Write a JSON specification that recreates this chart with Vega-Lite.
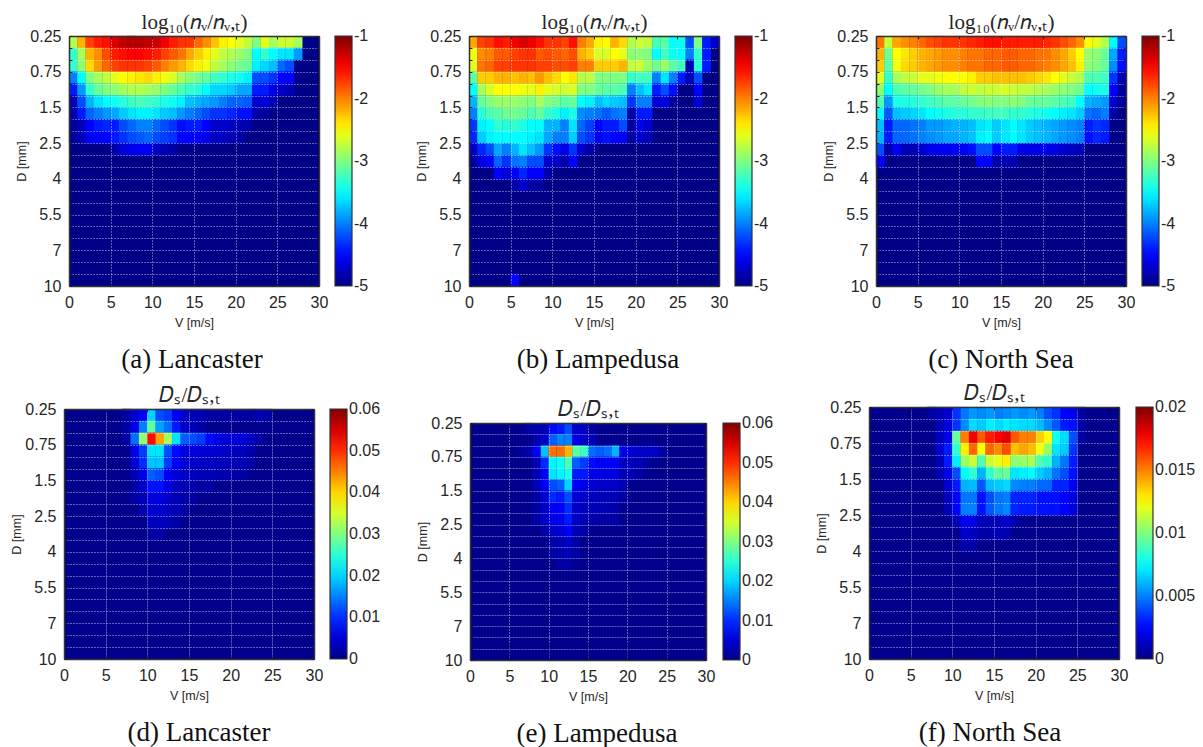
{"$schema":"https://vega.github.io/schema/vega-lite/v6.json","padding":{"left":0,"top":11,"right":0,"bottom":0},"background":"white","spacing":9,"resolve":{"scale":{"color":"independent"},"legend":{"color":"independent"}},
"config":{"axis":{"labelFlush":false,"labelFont":"Liberation Sans","labelFontSize":16,"labelColor":"#262626","titleFont":"Liberation Sans","titleFontSize":12.5,"titleFontWeight":"normal","titleColor":"#262626","domainColor":"#333","domainWidth":1.5,"tickColor":"#222","tickSize":-3,"tickWidth":1,"gridColor":"white","gridDash":[1,2],"gridOpacity":0.42,"gridWidth":1},"legend":{"labelFont":"Liberation Sans","labelFontSize":16,"labelColor":"#262626","labelOffset":6,"gradientStrokeColor":"#333","gradientStrokeWidth":1.2},"title":{"font":"Liberation Serif","fontSize":27,"fontWeight":"normal","color":"#111"}},
"datasets":{"bg":[{"v":0,"v2":30,"d":0,"d2":21}],
"a":[{"v":0.5,"d":0.5,"z":-2.8},{"v":1.5,"d":0.5,"z":-2.2},{"v":2.5,"d":0.5,"z":-1.75},{"v":3.5,"d":0.5,"z":-1.6},{"v":4.5,"d":0.5,"z":-1.55},{"v":5.5,"d":0.5,"z":-1.35},{"v":6.5,"d":0.5,"z":-1.25},{"v":7.5,"d":0.5,"z":-1.2},{"v":8.5,"d":0.5,"z":-1.2},{"v":9.5,"d":0.5,"z":-1.25},{"v":10.5,"d":0.5,"z":-1.3},{"v":11.5,"d":0.5,"z":-1.45},{"v":12.5,"d":0.5,"z":-1.6},{"v":13.5,"d":0.5,"z":-1.7},{"v":14.5,"d":0.5,"z":-1.7},{"v":15.5,"d":0.5,"z":-1.9},{"v":16.5,"d":0.5,"z":-2.05},{"v":17.5,"d":0.5,"z":-2.25},{"v":18.5,"d":0.5,"z":-2.45},{"v":19.5,"d":0.5,"z":-2.5},{"v":20.5,"d":0.5,"z":-2.6},{"v":21.5,"d":0.5,"z":-2.75},{"v":22.5,"d":0.5,"z":-3},{"v":23.5,"d":0.5,"z":-2.6},{"v":24.5,"d":0.5,"z":-2.85},{"v":25.5,"d":0.5,"z":-2.7},{"v":26.5,"d":0.5,"z":-2.7},{"v":27.5,"d":0.5,"z":-2.85},
{"v":0.5,"d":1.5,"z":-3.3},{"v":1.5,"d":1.5,"z":-2.85},{"v":2.5,"d":1.5,"z":-2.2},{"v":3.5,"d":1.5,"z":-2.05},{"v":4.5,"d":1.5,"z":-1.8},{"v":5.5,"d":1.5,"z":-1.6},{"v":6.5,"d":1.5,"z":-1.55},{"v":7.5,"d":1.5,"z":-1.5},{"v":8.5,"d":1.5,"z":-1.5},{"v":9.5,"d":1.5,"z":-1.55},{"v":10.5,"d":1.5,"z":-1.6},{"v":11.5,"d":1.5,"z":-1.75},{"v":12.5,"d":1.5,"z":-1.85},{"v":13.5,"d":1.5,"z":-1.95},{"v":14.5,"d":1.5,"z":-2.15},{"v":15.5,"d":1.5,"z":-2.3},{"v":16.5,"d":1.5,"z":-2.45},{"v":17.5,"d":1.5,"z":-2.6},{"v":18.5,"d":1.5,"z":-2.75},{"v":19.5,"d":1.5,"z":-2.8},{"v":20.5,"d":1.5,"z":-2.9},{"v":21.5,"d":1.5,"z":-3},{"v":22.5,"d":1.5,"z":-3.5},{"v":23.5,"d":1.5,"z":-3.3},{"v":24.5,"d":1.5,"z":-3.5},{"v":25.5,"d":1.5,"z":-3.6},{"v":26.5,"d":1.5,"z":-3.6},{"v":27.5,"d":1.5,"z":-3.9},
{"v":0.5,"d":2.5,"z":-3.3},{"v":1.5,"d":2.5,"z":-2.95},{"v":2.5,"d":2.5,"z":-2.35},{"v":3.5,"d":2.5,"z":-2.1},{"v":4.5,"d":2.5,"z":-1.9},{"v":5.5,"d":2.5,"z":-1.75},{"v":6.5,"d":2.5,"z":-1.7},{"v":7.5,"d":2.5,"z":-1.7},{"v":8.5,"d":2.5,"z":-1.7},{"v":9.5,"d":2.5,"z":-1.75},{"v":10.5,"d":2.5,"z":-1.85},{"v":11.5,"d":2.5,"z":-2},{"v":12.5,"d":2.5,"z":-2.1},{"v":13.5,"d":2.5,"z":-2.2},{"v":14.5,"d":2.5,"z":-2.35},{"v":15.5,"d":2.5,"z":-2.45},{"v":16.5,"d":2.5,"z":-2.55},{"v":17.5,"d":2.5,"z":-2.75},{"v":18.5,"d":2.5,"z":-2.85},{"v":19.5,"d":2.5,"z":-2.95},{"v":20.5,"d":2.5,"z":-3.05},{"v":21.5,"d":2.5,"z":-3.1},{"v":22.5,"d":2.5,"z":-3.55},{"v":23.5,"d":2.5,"z":-3.65},{"v":24.5,"d":2.5,"z":-3.75},{"v":25.5,"d":2.5,"z":-4.1},{"v":26.5,"d":2.5,"z":-4.2},
{"v":0.5,"d":3.5,"z":-4},{"v":1.5,"d":3.5,"z":-3.5},{"v":2.5,"d":3.5,"z":-3},{"v":3.5,"d":3.5,"z":-2.85},{"v":4.5,"d":3.5,"z":-2.75},{"v":5.5,"d":3.5,"z":-2.6},{"v":6.5,"d":3.5,"z":-2.5},{"v":7.5,"d":3.5,"z":-2.45},{"v":8.5,"d":3.5,"z":-2.4},{"v":9.5,"d":3.5,"z":-2.35},{"v":10.5,"d":3.5,"z":-2.45},{"v":11.5,"d":3.5,"z":-2.55},{"v":12.5,"d":3.5,"z":-2.65},{"v":13.5,"d":3.5,"z":-2.85},{"v":14.5,"d":3.5,"z":-2.95},{"v":15.5,"d":3.5,"z":-3.05},{"v":16.5,"d":3.5,"z":-3.1},{"v":17.5,"d":3.5,"z":-3.25},{"v":18.5,"d":3.5,"z":-3.3},{"v":19.5,"d":3.5,"z":-3.4},{"v":20.5,"d":3.5,"z":-3.45},{"v":21.5,"d":3.5,"z":-3.55},{"v":22.5,"d":3.5,"z":-4.2},{"v":23.5,"d":3.5,"z":-4.2},{"v":24.5,"d":3.5,"z":-4.3},{"v":25.5,"d":3.5,"z":-4.5},{"v":26.5,"d":3.5,"z":-4.5},
{"v":0.5,"d":4.5,"z":-4.4},{"v":1.5,"d":4.5,"z":-3.9},{"v":2.5,"d":4.5,"z":-3.3},{"v":3.5,"d":4.5,"z":-3.1},{"v":4.5,"d":4.5,"z":-3},{"v":5.5,"d":4.5,"z":-2.95},{"v":6.5,"d":4.5,"z":-2.85},{"v":7.5,"d":4.5,"z":-2.8},{"v":8.5,"d":4.5,"z":-2.8},{"v":9.5,"d":4.5,"z":-2.85},{"v":10.5,"d":4.5,"z":-2.9},{"v":11.5,"d":4.5,"z":-3},{"v":12.5,"d":4.5,"z":-3.1},{"v":13.5,"d":4.5,"z":-3.2},{"v":14.5,"d":4.5,"z":-3.3},{"v":15.5,"d":4.5,"z":-3.35},{"v":16.5,"d":4.5,"z":-3.5},{"v":17.5,"d":4.5,"z":-3.65},{"v":18.5,"d":4.5,"z":-3.65},{"v":19.5,"d":4.5,"z":-3.7},{"v":20.5,"d":4.5,"z":-3.85},{"v":21.5,"d":4.5,"z":-3.85},{"v":22.5,"d":4.5,"z":-4.4},{"v":23.5,"d":4.5,"z":-4.4},{"v":24.5,"d":4.5,"z":-4.6},{"v":25.5,"d":4.5,"z":-4.75},{"v":26.5,"d":4.5,"z":-4.8},
{"v":0.5,"d":5.5,"z":-4.8},{"v":1.5,"d":5.5,"z":-4.2},{"v":2.5,"d":5.5,"z":-3.8},{"v":3.5,"d":5.5,"z":-3.6},{"v":4.5,"d":5.5,"z":-3.5},{"v":5.5,"d":5.5,"z":-3.45},{"v":6.5,"d":5.5,"z":-3.35},{"v":7.5,"d":5.5,"z":-3.25},{"v":8.5,"d":5.5,"z":-3.2},{"v":9.5,"d":5.5,"z":-3.25},{"v":10.5,"d":5.5,"z":-3.3},{"v":11.5,"d":5.5,"z":-3.4},{"v":12.5,"d":5.5,"z":-3.45},{"v":13.5,"d":5.5,"z":-3.55},{"v":14.5,"d":5.5,"z":-3.75},{"v":15.5,"d":5.5,"z":-3.8},{"v":16.5,"d":5.5,"z":-3.85},{"v":17.5,"d":5.5,"z":-3.9},{"v":18.5,"d":5.5,"z":-4},{"v":19.5,"d":5.5,"z":-4.1},{"v":20.5,"d":5.5,"z":-4.1},{"v":21.5,"d":5.5,"z":-4.15},{"v":22.5,"d":5.5,"z":-4.7},{"v":23.5,"d":5.5,"z":-4.65},{"v":24.5,"d":5.5,"z":-4.8},
{"v":0.5,"d":6.5,"z":-4.85},{"v":1.5,"d":6.5,"z":-4.4},{"v":2.5,"d":6.5,"z":-4.1},{"v":3.5,"d":6.5,"z":-4},{"v":4.5,"d":6.5,"z":-3.9},{"v":5.5,"d":6.5,"z":-3.85},{"v":6.5,"d":6.5,"z":-3.7},{"v":7.5,"d":6.5,"z":-3.6},{"v":8.5,"d":6.5,"z":-3.55},{"v":9.5,"d":6.5,"z":-3.55},{"v":10.5,"d":6.5,"z":-3.6},{"v":11.5,"d":6.5,"z":-3.7},{"v":12.5,"d":6.5,"z":-3.75},{"v":13.5,"d":6.5,"z":-3.9},{"v":14.5,"d":6.5,"z":-4},{"v":15.5,"d":6.5,"z":-4.1},{"v":16.5,"d":6.5,"z":-4.2},{"v":17.5,"d":6.5,"z":-4.3},{"v":18.5,"d":6.5,"z":-4.3},{"v":19.5,"d":6.5,"z":-4.35},{"v":20.5,"d":6.5,"z":-4.45},{"v":21.5,"d":6.5,"z":-4.45},{"v":22.5,"d":6.5,"z":-4.85},{"v":23.5,"d":6.5,"z":-4.9},
{"v":0.5,"d":7.5,"z":-4.9},{"v":1.5,"d":7.5,"z":-4.8},{"v":2.5,"d":7.5,"z":-4.5},{"v":3.5,"d":7.5,"z":-4.4},{"v":4.5,"d":7.5,"z":-4.35},{"v":5.5,"d":7.5,"z":-4.4},{"v":6.5,"d":7.5,"z":-4.2},{"v":7.5,"d":7.5,"z":-4.1},{"v":8.5,"d":7.5,"z":-4},{"v":9.5,"d":7.5,"z":-4},{"v":10.5,"d":7.5,"z":-4.1},{"v":11.5,"d":7.5,"z":-4.2},{"v":12.5,"d":7.5,"z":-4.3},{"v":13.5,"d":7.5,"z":-4.45},{"v":14.5,"d":7.5,"z":-4.4},{"v":15.5,"d":7.5,"z":-4.4},{"v":16.5,"d":7.5,"z":-4.5},{"v":17.5,"d":7.5,"z":-4.7},{"v":18.5,"d":7.5,"z":-4.7},{"v":19.5,"d":7.5,"z":-4.75},{"v":20.5,"d":7.5,"z":-4.8},{"v":21.5,"d":7.5,"z":-4.85},
{"v":0.5,"d":8.5,"z":-4.9},{"v":1.5,"d":8.5,"z":-4.8},{"v":2.5,"d":8.5,"z":-4.55},{"v":3.5,"d":8.5,"z":-4.5},{"v":4.5,"d":8.5,"z":-4.5},{"v":5.5,"d":8.5,"z":-4.4},{"v":6.5,"d":8.5,"z":-4.3},{"v":7.5,"d":8.5,"z":-4.2},{"v":8.5,"d":8.5,"z":-4.15},{"v":9.5,"d":8.5,"z":-4.1},{"v":10.5,"d":8.5,"z":-4.2},{"v":11.5,"d":8.5,"z":-4.25},{"v":12.5,"d":8.5,"z":-4.3},{"v":13.5,"d":8.5,"z":-4.5},{"v":14.5,"d":8.5,"z":-4.5},{"v":15.5,"d":8.5,"z":-4.5},{"v":16.5,"d":8.5,"z":-4.6},{"v":17.5,"d":8.5,"z":-4.75},{"v":18.5,"d":8.5,"z":-4.75},{"v":19.5,"d":8.5,"z":-4.8},{"v":20.5,"d":8.5,"z":-4.85},
{"v":5.5,"d":9.5,"z":-4.85},{"v":6.5,"d":9.5,"z":-4.65},{"v":7.5,"d":9.5,"z":-4.6},{"v":8.5,"d":9.5,"z":-4.55},{"v":9.5,"d":9.5,"z":-4.55},{"v":10.5,"d":9.5,"z":-4.75},{"v":11.5,"d":9.5,"z":-4.8},{"v":12.5,"d":9.5,"z":-4.85}],
"b":[{"v":0.5,"d":0.5,"z":-2.15},{"v":1.5,"d":0.5,"z":-1.75},{"v":2.5,"d":0.5,"z":-1.7},{"v":3.5,"d":0.5,"z":-1.55},{"v":4.5,"d":0.5,"z":-1.6},{"v":5.5,"d":0.5,"z":-1.45},{"v":6.5,"d":0.5,"z":-1.35},{"v":7.5,"d":0.5,"z":-1.45},{"v":8.5,"d":0.5,"z":-1.55},{"v":9.5,"d":0.5,"z":-1.7},{"v":10.5,"d":0.5,"z":-1.7},{"v":11.5,"d":0.5,"z":-1.75},{"v":12.5,"d":0.5,"z":-1.55},{"v":13.5,"d":0.5,"z":-2},{"v":14.5,"d":0.5,"z":-2.15},{"v":15.5,"d":0.5,"z":-2.45},{"v":16.5,"d":0.5,"z":-2.5},{"v":17.5,"d":0.5,"z":-2.2},{"v":18.5,"d":0.5,"z":-2.35},{"v":19.5,"d":0.5,"z":-2.8},{"v":20.5,"d":0.5,"z":-2.7},{"v":21.5,"d":0.5,"z":-2.75},{"v":22.5,"d":0.5,"z":-3.2},{"v":23.5,"d":0.5,"z":-3.15},{"v":24.5,"d":0.5,"z":-3.5},{"v":25.5,"d":0.5,"z":-3.45},{"v":26.5,"d":0.5,"z":-4.2},{"v":27.5,"d":0.5,"z":-3},{"v":28.5,"d":0.5,"z":-4.4},{"v":29.5,"d":0.5,"z":-4.7},
{"v":0.5,"d":1.5,"z":-2.55},{"v":1.5,"d":1.5,"z":-2.05},{"v":2.5,"d":1.5,"z":-2},{"v":3.5,"d":1.5,"z":-1.85},{"v":4.5,"d":1.5,"z":-1.85},{"v":5.5,"d":1.5,"z":-1.75},{"v":6.5,"d":1.5,"z":-1.7},{"v":7.5,"d":1.5,"z":-1.7},{"v":8.5,"d":1.5,"z":-1.85},{"v":9.5,"d":1.5,"z":-1.8},{"v":10.5,"d":1.5,"z":-1.85},{"v":11.5,"d":1.5,"z":-1.9},{"v":12.5,"d":1.5,"z":-1.8},{"v":13.5,"d":1.5,"z":-2.2},{"v":14.5,"d":1.5,"z":-2.3},{"v":15.5,"d":1.5,"z":-2.65},{"v":16.5,"d":1.5,"z":-2.65},{"v":17.5,"d":1.5,"z":-2.5},{"v":18.5,"d":1.5,"z":-2.6},{"v":19.5,"d":1.5,"z":-2.95},{"v":20.5,"d":1.5,"z":-2.95},{"v":21.5,"d":1.5,"z":-3},{"v":22.5,"d":1.5,"z":-3.5},{"v":23.5,"d":1.5,"z":-3.25},{"v":24.5,"d":1.5,"z":-3.45},{"v":25.5,"d":1.5,"z":-3.5},{"v":26.5,"d":1.5,"z":-4},{"v":27.5,"d":1.5,"z":-3.3},{"v":28.5,"d":1.5,"z":-4.4},
{"v":0.5,"d":2.5,"z":-2.6},{"v":1.5,"d":2.5,"z":-1.95},{"v":2.5,"d":2.5,"z":-1.9},{"v":3.5,"d":2.5,"z":-1.75},{"v":4.5,"d":2.5,"z":-1.75},{"v":5.5,"d":2.5,"z":-1.7},{"v":6.5,"d":2.5,"z":-1.7},{"v":7.5,"d":2.5,"z":-1.7},{"v":8.5,"d":2.5,"z":-1.75},{"v":9.5,"d":2.5,"z":-1.75},{"v":10.5,"d":2.5,"z":-1.8},{"v":11.5,"d":2.5,"z":-1.8},{"v":12.5,"d":2.5,"z":-1.75},{"v":13.5,"d":2.5,"z":-2},{"v":14.5,"d":2.5,"z":-2},{"v":15.5,"d":2.5,"z":-2.3},{"v":16.5,"d":2.5,"z":-2.3},{"v":17.5,"d":2.5,"z":-2.3},{"v":18.5,"d":2.5,"z":-2.2},{"v":19.5,"d":2.5,"z":-2.75},{"v":20.5,"d":2.5,"z":-2.7},{"v":21.5,"d":2.5,"z":-2.9},{"v":22.5,"d":2.5,"z":-3.05},{"v":23.5,"d":2.5,"z":-2.9},{"v":24.5,"d":2.5,"z":-3.15},{"v":25.5,"d":2.5,"z":-3.25},{"v":26.5,"d":2.5,"z":-4.8},{"v":27.5,"d":2.5,"z":-3.35},{"v":28.5,"d":2.5,"z":-4.4},
{"v":0.5,"d":3.5,"z":-3.15},{"v":1.5,"d":3.5,"z":-2.3},{"v":2.5,"d":3.5,"z":-2.3},{"v":3.5,"d":3.5,"z":-2.2},{"v":4.5,"d":3.5,"z":-2.2},{"v":5.5,"d":3.5,"z":-2.25},{"v":6.5,"d":3.5,"z":-2.2},{"v":7.5,"d":3.5,"z":-2.25},{"v":8.5,"d":3.5,"z":-2.1},{"v":9.5,"d":3.5,"z":-2.25},{"v":10.5,"d":3.5,"z":-2.35},{"v":11.5,"d":3.5,"z":-2.5},{"v":12.5,"d":3.5,"z":-2.4},{"v":13.5,"d":3.5,"z":-2.8},{"v":14.5,"d":3.5,"z":-2.75},{"v":15.5,"d":3.5,"z":-3},{"v":16.5,"d":3.5,"z":-3},{"v":17.5,"d":3.5,"z":-3},{"v":18.5,"d":3.5,"z":-3},{"v":19.5,"d":3.5,"z":-3.3},{"v":20.5,"d":3.5,"z":-3.25},{"v":21.5,"d":3.5,"z":-3.25},{"v":22.5,"d":3.5,"z":-4},{"v":23.5,"d":3.5,"z":-3.6},{"v":24.5,"d":3.5,"z":-4},{"v":25.5,"d":3.5,"z":-4.4},{"v":26.5,"d":3.5,"z":-4.8},{"v":27.5,"d":3.5,"z":-4.2},
{"v":0.5,"d":4.5,"z":-3.5},{"v":1.5,"d":4.5,"z":-2.85},{"v":2.5,"d":4.5,"z":-2.65},{"v":3.5,"d":4.5,"z":-2.5},{"v":4.5,"d":4.5,"z":-2.5},{"v":5.5,"d":4.5,"z":-2.5},{"v":6.5,"d":4.5,"z":-2.55},{"v":7.5,"d":4.5,"z":-2.6},{"v":8.5,"d":4.5,"z":-2.45},{"v":9.5,"d":4.5,"z":-2.6},{"v":10.5,"d":4.5,"z":-2.65},{"v":11.5,"d":4.5,"z":-2.7},{"v":12.5,"d":4.5,"z":-2.65},{"v":13.5,"d":4.5,"z":-3},{"v":14.5,"d":4.5,"z":-3},{"v":15.5,"d":4.5,"z":-3.1},{"v":16.5,"d":4.5,"z":-3.15},{"v":17.5,"d":4.5,"z":-3.15},{"v":18.5,"d":4.5,"z":-3.2},{"v":19.5,"d":4.5,"z":-4},{"v":20.5,"d":4.5,"z":-3.75},{"v":21.5,"d":4.5,"z":-3.6},{"v":22.5,"d":4.5,"z":-4.4},{"v":23.5,"d":4.5,"z":-4.2},{"v":24.5,"d":4.5,"z":-4.45},{"v":27.5,"d":4.5,"z":-4.5},
{"v":0.5,"d":5.5,"z":-3.8},{"v":1.5,"d":5.5,"z":-3.1},{"v":2.5,"d":5.5,"z":-3},{"v":3.5,"d":5.5,"z":-2.9},{"v":4.5,"d":5.5,"z":-2.9},{"v":5.5,"d":5.5,"z":-2.9},{"v":6.5,"d":5.5,"z":-2.95},{"v":7.5,"d":5.5,"z":-3},{"v":8.5,"d":5.5,"z":-2.85},{"v":9.5,"d":5.5,"z":-3},{"v":10.5,"d":5.5,"z":-3.05},{"v":11.5,"d":5.5,"z":-3.15},{"v":12.5,"d":5.5,"z":-3.1},{"v":13.5,"d":5.5,"z":-3.5},{"v":14.5,"d":5.5,"z":-3.55},{"v":15.5,"d":5.5,"z":-3.75},{"v":16.5,"d":5.5,"z":-3.65},{"v":17.5,"d":5.5,"z":-3.7},{"v":18.5,"d":5.5,"z":-3.75},{"v":19.5,"d":5.5,"z":-4.3},{"v":20.5,"d":5.5,"z":-4},{"v":21.5,"d":5.5,"z":-4},{"v":22.5,"d":5.5,"z":-4.7},{"v":23.5,"d":5.5,"z":-4.6},{"v":24.5,"d":5.5,"z":-4.9},{"v":27.5,"d":5.5,"z":-4.7},
{"v":0.5,"d":6.5,"z":-4},{"v":1.5,"d":6.5,"z":-3.35},{"v":2.5,"d":6.5,"z":-3.2},{"v":3.5,"d":6.5,"z":-3.15},{"v":4.5,"d":6.5,"z":-3.05},{"v":5.5,"d":6.5,"z":-3.05},{"v":6.5,"d":6.5,"z":-3.1},{"v":7.5,"d":6.5,"z":-3.2},{"v":8.5,"d":6.5,"z":-3.1},{"v":9.5,"d":6.5,"z":-3.3},{"v":10.5,"d":6.5,"z":-3.4},{"v":11.5,"d":6.5,"z":-3.55},{"v":12.5,"d":6.5,"z":-3.4},{"v":13.5,"d":6.5,"z":-3.95},{"v":14.5,"d":6.5,"z":-4},{"v":15.5,"d":6.5,"z":-4.05},{"v":16.5,"d":6.5,"z":-4.15},{"v":17.5,"d":6.5,"z":-4.05},{"v":18.5,"d":6.5,"z":-4},{"v":19.5,"d":6.5,"z":-4.85},{"v":20.5,"d":6.5,"z":-4.4},{"v":21.5,"d":6.5,"z":-4.4},
{"v":0.5,"d":7.5,"z":-4.3},{"v":1.5,"d":7.5,"z":-3.55},{"v":2.5,"d":7.5,"z":-3.5},{"v":3.5,"d":7.5,"z":-3.3},{"v":4.5,"d":7.5,"z":-3.35},{"v":5.5,"d":7.5,"z":-3.3},{"v":6.5,"d":7.5,"z":-3.4},{"v":7.5,"d":7.5,"z":-3.5},{"v":8.5,"d":7.5,"z":-3.5},{"v":9.5,"d":7.5,"z":-3.8},{"v":10.5,"d":7.5,"z":-3.8},{"v":11.5,"d":7.5,"z":-4},{"v":12.5,"d":7.5,"z":-3.6},{"v":13.5,"d":7.5,"z":-4.1},{"v":14.5,"d":7.5,"z":-4.25},{"v":15.5,"d":7.5,"z":-4.5},{"v":16.5,"d":7.5,"z":-4.4},{"v":17.5,"d":7.5,"z":-4.4},{"v":18.5,"d":7.5,"z":-4.2},{"v":19.5,"d":7.5,"z":-4.9},{"v":20.5,"d":7.5,"z":-4.55},{"v":21.5,"d":7.5,"z":-4.7},
{"v":0.5,"d":8.5,"z":-4.35},{"v":1.5,"d":8.5,"z":-3.7},{"v":2.5,"d":8.5,"z":-3.55},{"v":3.5,"d":8.5,"z":-3.5},{"v":4.5,"d":8.5,"z":-3.5},{"v":5.5,"d":8.5,"z":-3.5},{"v":6.5,"d":8.5,"z":-3.5},{"v":7.5,"d":8.5,"z":-3.55},{"v":8.5,"d":8.5,"z":-3.6},{"v":9.5,"d":8.5,"z":-3.85},{"v":10.5,"d":8.5,"z":-4},{"v":11.5,"d":8.5,"z":-4},{"v":12.5,"d":8.5,"z":-3.7},{"v":13.5,"d":8.5,"z":-4.2},{"v":14.5,"d":8.5,"z":-4.3},{"v":15.5,"d":8.5,"z":-4.55},{"v":16.5,"d":8.5,"z":-4.45},{"v":17.5,"d":8.5,"z":-4.5},{"v":18.5,"d":8.5,"z":-4.55},{"v":19.5,"d":8.5,"z":-4.9},{"v":20.5,"d":8.5,"z":-4.7},{"v":21.5,"d":8.5,"z":-4.8},
{"v":0.5,"d":9.5,"z":-4.75},{"v":1.5,"d":9.5,"z":-4.35},{"v":2.5,"d":9.5,"z":-4.2},{"v":3.5,"d":9.5,"z":-3.85},{"v":4.5,"d":9.5,"z":-4},{"v":5.5,"d":9.5,"z":-3.8},{"v":6.5,"d":9.5,"z":-3.6},{"v":7.5,"d":9.5,"z":-3.75},{"v":8.5,"d":9.5,"z":-3.9},{"v":9.5,"d":9.5,"z":-4.3},{"v":10.5,"d":9.5,"z":-4.45},{"v":11.5,"d":9.5,"z":-4.6},{"v":12.5,"d":9.5,"z":-4.3},{"v":13.5,"d":9.5,"z":-4.7},{"v":14.5,"d":9.5,"z":-4.85},
{"v":0.5,"d":10.5,"z":-4.9},{"v":1.5,"d":10.5,"z":-4.6},{"v":2.5,"d":10.5,"z":-4.5},{"v":3.5,"d":10.5,"z":-4.1},{"v":4.5,"d":10.5,"z":-4.3},{"v":5.5,"d":10.5,"z":-4.05},{"v":6.5,"d":10.5,"z":-4},{"v":7.5,"d":10.5,"z":-4.2},{"v":8.5,"d":10.5,"z":-4.2},{"v":9.5,"d":10.5,"z":-4.7},{"v":10.5,"d":10.5,"z":-4.7},{"v":11.5,"d":10.5,"z":-4.85},{"v":12.5,"d":10.5,"z":-4.5},
{"v":3.5,"d":11.5,"z":-4.5},{"v":4.5,"d":11.5,"z":-4.65},{"v":5.5,"d":11.5,"z":-4.55},{"v":6.5,"d":11.5,"z":-4.35},{"v":7.5,"d":11.5,"z":-4.5},{"v":8.5,"d":11.5,"z":-4.5},{"v":9.5,"d":11.5,"z":-4.85},
{"v":5.5,"d":12.5,"z":-4.85},{"v":6.5,"d":12.5,"z":-4.7},{"v":7.5,"d":12.5,"z":-4.85},{"v":8.5,"d":12.5,"z":-4.9},{"v":5.5,"d":20.5,"z":-4.5}],
"c":[{"v":0.5,"d":0.5,"z":-1.95},{"v":1.5,"d":0.5,"z":-2.7},{"v":2.5,"d":0.5,"z":-2.15},{"v":3.5,"d":0.5,"z":-2.05},{"v":4.5,"d":0.5,"z":-2},{"v":5.5,"d":0.5,"z":-1.9},{"v":6.5,"d":0.5,"z":-1.8},{"v":7.5,"d":0.5,"z":-1.75},{"v":8.5,"d":0.5,"z":-1.7},{"v":9.5,"d":0.5,"z":-1.7},{"v":10.5,"d":0.5,"z":-1.7},{"v":11.5,"d":0.5,"z":-1.65},{"v":12.5,"d":0.5,"z":-1.6},{"v":13.5,"d":0.5,"z":-1.55},{"v":14.5,"d":0.5,"z":-1.55},{"v":15.5,"d":0.5,"z":-1.6},{"v":16.5,"d":0.5,"z":-1.6},{"v":17.5,"d":0.5,"z":-1.6},{"v":18.5,"d":0.5,"z":-1.6},{"v":19.5,"d":0.5,"z":-1.6},{"v":20.5,"d":0.5,"z":-1.65},{"v":21.5,"d":0.5,"z":-1.7},{"v":22.5,"d":0.5,"z":-1.8},{"v":23.5,"d":0.5,"z":-1.9},{"v":24.5,"d":0.5,"z":-2.05},{"v":25.5,"d":0.5,"z":-2.5},{"v":26.5,"d":0.5,"z":-2.6},{"v":27.5,"d":0.5,"z":-2.8},{"v":28.5,"d":0.5,"z":-3.5},{"v":29.5,"d":0.5,"z":-4.2},
{"v":0.5,"d":1.5,"z":-2.2},{"v":1.5,"d":1.5,"z":-3.05},{"v":2.5,"d":1.5,"z":-2.5},{"v":3.5,"d":1.5,"z":-2.4},{"v":4.5,"d":1.5,"z":-2.3},{"v":5.5,"d":1.5,"z":-2.2},{"v":6.5,"d":1.5,"z":-2.15},{"v":7.5,"d":1.5,"z":-2.1},{"v":8.5,"d":1.5,"z":-2.05},{"v":9.5,"d":1.5,"z":-2.05},{"v":10.5,"d":1.5,"z":-2},{"v":11.5,"d":1.5,"z":-1.95},{"v":12.5,"d":1.5,"z":-1.95},{"v":13.5,"d":1.5,"z":-1.9},{"v":14.5,"d":1.5,"z":-1.9},{"v":15.5,"d":1.5,"z":-1.85},{"v":16.5,"d":1.5,"z":-1.85},{"v":17.5,"d":1.5,"z":-1.9},{"v":18.5,"d":1.5,"z":-1.9},{"v":19.5,"d":1.5,"z":-1.95},{"v":20.5,"d":1.5,"z":-1.95},{"v":21.5,"d":1.5,"z":-2.05},{"v":22.5,"d":1.5,"z":-2.15},{"v":23.5,"d":1.5,"z":-2.3},{"v":24.5,"d":1.5,"z":-2.5},{"v":25.5,"d":1.5,"z":-2.9},{"v":26.5,"d":1.5,"z":-2.95},{"v":27.5,"d":1.5,"z":-3.1},{"v":28.5,"d":1.5,"z":-3.85},{"v":29.5,"d":1.5,"z":-4.4},
{"v":0.5,"d":2.5,"z":-2.3},{"v":1.5,"d":2.5,"z":-3.15},{"v":2.5,"d":2.5,"z":-2.55},{"v":3.5,"d":2.5,"z":-2.35},{"v":4.5,"d":2.5,"z":-2.3},{"v":5.5,"d":2.5,"z":-2.2},{"v":6.5,"d":2.5,"z":-2.15},{"v":7.5,"d":2.5,"z":-2.1},{"v":8.5,"d":2.5,"z":-2.05},{"v":9.5,"d":2.5,"z":-2.05},{"v":10.5,"d":2.5,"z":-2},{"v":11.5,"d":2.5,"z":-1.95},{"v":12.5,"d":2.5,"z":-1.95},{"v":13.5,"d":2.5,"z":-1.9},{"v":14.5,"d":2.5,"z":-1.9},{"v":15.5,"d":2.5,"z":-1.85},{"v":16.5,"d":2.5,"z":-1.85},{"v":17.5,"d":2.5,"z":-1.9},{"v":18.5,"d":2.5,"z":-1.9},{"v":19.5,"d":2.5,"z":-1.95},{"v":20.5,"d":2.5,"z":-2},{"v":21.5,"d":2.5,"z":-2.05},{"v":22.5,"d":2.5,"z":-2.15},{"v":23.5,"d":2.5,"z":-2.25},{"v":24.5,"d":2.5,"z":-2.45},{"v":25.5,"d":2.5,"z":-2.95},{"v":26.5,"d":2.5,"z":-3},{"v":27.5,"d":2.5,"z":-3.1},{"v":28.5,"d":2.5,"z":-3.95},{"v":29.5,"d":2.5,"z":-4.45},
{"v":0.5,"d":3.5,"z":-2.6},{"v":1.5,"d":3.5,"z":-3.3},{"v":2.5,"d":3.5,"z":-2.85},{"v":3.5,"d":3.5,"z":-2.75},{"v":4.5,"d":3.5,"z":-2.7},{"v":5.5,"d":3.5,"z":-2.6},{"v":6.5,"d":3.5,"z":-2.6},{"v":7.5,"d":3.5,"z":-2.55},{"v":8.5,"d":3.5,"z":-2.5},{"v":9.5,"d":3.5,"z":-2.5},{"v":10.5,"d":3.5,"z":-2.5},{"v":11.5,"d":3.5,"z":-2.45},{"v":12.5,"d":3.5,"z":-2.3},{"v":13.5,"d":3.5,"z":-2.3},{"v":14.5,"d":3.5,"z":-2.25},{"v":15.5,"d":3.5,"z":-2.25},{"v":16.5,"d":3.5,"z":-2.25},{"v":17.5,"d":3.5,"z":-2.25},{"v":18.5,"d":3.5,"z":-2.3},{"v":19.5,"d":3.5,"z":-2.35},{"v":20.5,"d":3.5,"z":-2.4},{"v":21.5,"d":3.5,"z":-2.5},{"v":22.5,"d":3.5,"z":-2.6},{"v":23.5,"d":3.5,"z":-2.7},{"v":24.5,"d":3.5,"z":-2.8},{"v":25.5,"d":3.5,"z":-3.2},{"v":26.5,"d":3.5,"z":-3.2},{"v":27.5,"d":3.5,"z":-3.25},{"v":28.5,"d":3.5,"z":-4.3},{"v":29.5,"d":3.5,"z":-4.8},
{"v":0.5,"d":4.5,"z":-2.95},{"v":1.5,"d":4.5,"z":-3.5},{"v":2.5,"d":4.5,"z":-3.2},{"v":3.5,"d":4.5,"z":-3.15},{"v":4.5,"d":4.5,"z":-3.1},{"v":5.5,"d":4.5,"z":-3.05},{"v":6.5,"d":4.5,"z":-3},{"v":7.5,"d":4.5,"z":-2.9},{"v":8.5,"d":4.5,"z":-2.85},{"v":9.5,"d":4.5,"z":-2.85},{"v":10.5,"d":4.5,"z":-2.75},{"v":11.5,"d":4.5,"z":-2.7},{"v":12.5,"d":4.5,"z":-2.75},{"v":13.5,"d":4.5,"z":-2.7},{"v":14.5,"d":4.5,"z":-2.7},{"v":15.5,"d":4.5,"z":-2.65},{"v":16.5,"d":4.5,"z":-2.7},{"v":17.5,"d":4.5,"z":-2.75},{"v":18.5,"d":4.5,"z":-2.75},{"v":19.5,"d":4.5,"z":-2.8},{"v":20.5,"d":4.5,"z":-2.85},{"v":21.5,"d":4.5,"z":-2.9},{"v":22.5,"d":4.5,"z":-2.95},{"v":23.5,"d":4.5,"z":-3},{"v":24.5,"d":4.5,"z":-3.05},{"v":25.5,"d":4.5,"z":-3.5},{"v":26.5,"d":4.5,"z":-3.45},{"v":27.5,"d":4.5,"z":-3.4},{"v":28.5,"d":4.5,"z":-4.5},{"v":29.5,"d":4.5,"z":-4.9},
{"v":0.5,"d":5.5,"z":-3.2},{"v":1.5,"d":5.5,"z":-3.9},{"v":2.5,"d":5.5,"z":-3.4},{"v":3.5,"d":5.5,"z":-3.4},{"v":4.5,"d":5.5,"z":-3.35},{"v":5.5,"d":5.5,"z":-3.3},{"v":6.5,"d":5.5,"z":-3.25},{"v":7.5,"d":5.5,"z":-3.2},{"v":8.5,"d":5.5,"z":-3.15},{"v":9.5,"d":5.5,"z":-3.15},{"v":10.5,"d":5.5,"z":-3.1},{"v":11.5,"d":5.5,"z":-3.05},{"v":12.5,"d":5.5,"z":-3},{"v":13.5,"d":5.5,"z":-2.95},{"v":14.5,"d":5.5,"z":-3},{"v":15.5,"d":5.5,"z":-3},{"v":16.5,"d":5.5,"z":-2.95},{"v":17.5,"d":5.5,"z":-3},{"v":18.5,"d":5.5,"z":-3.1},{"v":19.5,"d":5.5,"z":-3.1},{"v":20.5,"d":5.5,"z":-3.1},{"v":21.5,"d":5.5,"z":-3.15},{"v":22.5,"d":5.5,"z":-3.2},{"v":23.5,"d":5.5,"z":-3.25},{"v":24.5,"d":5.5,"z":-3.5},{"v":25.5,"d":5.5,"z":-3.8},{"v":26.5,"d":5.5,"z":-3.85},{"v":27.5,"d":5.5,"z":-3.9},{"v":28.5,"d":5.5,"z":-4.7},{"v":29.5,"d":5.5,"z":-4.9},
{"v":0.5,"d":6.5,"z":-3.5},{"v":1.5,"d":6.5,"z":-4.15},{"v":2.5,"d":6.5,"z":-3.75},{"v":3.5,"d":6.5,"z":-3.7},{"v":4.5,"d":6.5,"z":-3.65},{"v":5.5,"d":6.5,"z":-3.6},{"v":6.5,"d":6.5,"z":-3.5},{"v":7.5,"d":6.5,"z":-3.45},{"v":8.5,"d":6.5,"z":-3.4},{"v":9.5,"d":6.5,"z":-3.35},{"v":10.5,"d":6.5,"z":-3.35},{"v":11.5,"d":6.5,"z":-3.3},{"v":12.5,"d":6.5,"z":-3.3},{"v":13.5,"d":6.5,"z":-3.25},{"v":14.5,"d":6.5,"z":-3.25},{"v":15.5,"d":6.5,"z":-3.25},{"v":16.5,"d":6.5,"z":-3.3},{"v":17.5,"d":6.5,"z":-3.3},{"v":18.5,"d":6.5,"z":-3.35},{"v":19.5,"d":6.5,"z":-3.4},{"v":20.5,"d":6.5,"z":-3.45},{"v":21.5,"d":6.5,"z":-3.5},{"v":22.5,"d":6.5,"z":-3.55},{"v":23.5,"d":6.5,"z":-3.6},{"v":24.5,"d":6.5,"z":-3.7},{"v":25.5,"d":6.5,"z":-4.05},{"v":26.5,"d":6.5,"z":-4.1},{"v":27.5,"d":6.5,"z":-4},{"v":28.5,"d":6.5,"z":-4.85},
{"v":0.5,"d":7.5,"z":-3.75},{"v":1.5,"d":7.5,"z":-4.4},{"v":2.5,"d":7.5,"z":-4.1},{"v":3.5,"d":7.5,"z":-4.1},{"v":4.5,"d":7.5,"z":-4.05},{"v":5.5,"d":7.5,"z":-4},{"v":6.5,"d":7.5,"z":-3.9},{"v":7.5,"d":7.5,"z":-3.9},{"v":8.5,"d":7.5,"z":-3.85},{"v":9.5,"d":7.5,"z":-3.8},{"v":10.5,"d":7.5,"z":-3.8},{"v":11.5,"d":7.5,"z":-3.75},{"v":12.5,"d":7.5,"z":-3.6},{"v":13.5,"d":7.5,"z":-3.55},{"v":14.5,"d":7.5,"z":-3.7},{"v":15.5,"d":7.5,"z":-3.6},{"v":16.5,"d":7.5,"z":-3.5},{"v":17.5,"d":7.5,"z":-3.6},{"v":18.5,"d":7.5,"z":-3.7},{"v":19.5,"d":7.5,"z":-3.75},{"v":20.5,"d":7.5,"z":-3.8},{"v":21.5,"d":7.5,"z":-3.85},{"v":22.5,"d":7.5,"z":-3.9},{"v":23.5,"d":7.5,"z":-3.95},{"v":24.5,"d":7.5,"z":-4},{"v":25.5,"d":7.5,"z":-4.4},{"v":26.5,"d":7.5,"z":-4.3},{"v":27.5,"d":7.5,"z":-4.35},
{"v":0.5,"d":8.5,"z":-3.8},{"v":1.5,"d":8.5,"z":-4.4},{"v":2.5,"d":8.5,"z":-4.1},{"v":3.5,"d":8.5,"z":-4.1},{"v":4.5,"d":8.5,"z":-4.05},{"v":5.5,"d":8.5,"z":-4},{"v":6.5,"d":8.5,"z":-3.95},{"v":7.5,"d":8.5,"z":-3.9},{"v":8.5,"d":8.5,"z":-3.85},{"v":9.5,"d":8.5,"z":-3.85},{"v":10.5,"d":8.5,"z":-3.8},{"v":11.5,"d":8.5,"z":-3.75},{"v":12.5,"d":8.5,"z":-3.55},{"v":13.5,"d":8.5,"z":-3.5},{"v":14.5,"d":8.5,"z":-3.7},{"v":15.5,"d":8.5,"z":-3.6},{"v":16.5,"d":8.5,"z":-3.5},{"v":17.5,"d":8.5,"z":-3.6},{"v":18.5,"d":8.5,"z":-3.7},{"v":19.5,"d":8.5,"z":-3.75},{"v":20.5,"d":8.5,"z":-3.8},{"v":21.5,"d":8.5,"z":-3.85},{"v":22.5,"d":8.5,"z":-3.9},{"v":23.5,"d":8.5,"z":-3.95},{"v":24.5,"d":8.5,"z":-4},{"v":25.5,"d":8.5,"z":-4.45},{"v":26.5,"d":8.5,"z":-4.35},{"v":27.5,"d":8.5,"z":-4.4},
{"v":0.5,"d":9.5,"z":-4.2},{"v":1.5,"d":9.5,"z":-4.85},{"v":2.5,"d":9.5,"z":-4.55},{"v":3.5,"d":9.5,"z":-4.8},{"v":4.5,"d":9.5,"z":-4.8},{"v":5.5,"d":9.5,"z":-4.7},{"v":6.5,"d":9.5,"z":-4.6},{"v":7.5,"d":9.5,"z":-4.55},{"v":8.5,"d":9.5,"z":-4.55},{"v":9.5,"d":9.5,"z":-4.55},{"v":10.5,"d":9.5,"z":-4.55},{"v":11.5,"d":9.5,"z":-4.45},{"v":12.5,"d":9.5,"z":-4.2},{"v":13.5,"d":9.5,"z":-4.2},{"v":14.5,"d":9.5,"z":-4.5},{"v":15.5,"d":9.5,"z":-4.4},{"v":16.5,"d":9.5,"z":-4.4},{"v":17.5,"d":9.5,"z":-4.6},{"v":18.5,"d":9.5,"z":-4.6},{"v":19.5,"d":9.5,"z":-4.6},{"v":20.5,"d":9.5,"z":-4.6},{"v":21.5,"d":9.5,"z":-4.6},{"v":22.5,"d":9.5,"z":-4.7},{"v":23.5,"d":9.5,"z":-4.75},{"v":24.5,"d":9.5,"z":-4.8},
{"v":0.5,"d":10.5,"z":-4.5},{"v":12.5,"d":10.5,"z":-4.5},{"v":13.5,"d":10.5,"z":-4.5},{"v":14.5,"d":10.5,"z":-4.85},{"v":15.5,"d":10.5,"z":-4.8},{"v":16.5,"d":10.5,"z":-4.8}],
"d":[{"v":7.5,"d":0.5,"z":0.002},{"v":8.5,"d":0.5,"z":0.0045},{"v":9.5,"d":0.5,"z":0.0075},{"v":10.5,"d":0.5,"z":0.02},{"v":11.5,"d":0.5,"z":0.012},{"v":12.5,"d":0.5,"z":0.011},{"v":13.5,"d":0.5,"z":0.007},{"v":14.5,"d":0.5,"z":0.004},{"v":15.5,"d":0.5,"z":0.003},{"v":16.5,"d":0.5,"z":0.003},{"v":17.5,"d":0.5,"z":0.002},{"v":18.5,"d":0.5,"z":0.002},{"v":19.5,"d":0.5,"z":0.002},{"v":20.5,"d":0.5,"z":0.002},{"v":21.5,"d":0.5,"z":0.002},{"v":22.5,"d":0.5,"z":0.002},{"v":23.5,"d":0.5,"z":0.003},{"v":24.5,"d":0.5,"z":0.002},
{"v":7.5,"d":1.5,"z":0.002},{"v":8.5,"d":1.5,"z":0.006},{"v":9.5,"d":1.5,"z":0.015},{"v":10.5,"d":1.5,"z":0.028},{"v":11.5,"d":1.5,"z":0.017},{"v":12.5,"d":1.5,"z":0.014},{"v":13.5,"d":1.5,"z":0.009},{"v":14.5,"d":1.5,"z":0.004},{"v":15.5,"d":1.5,"z":0.003},{"v":16.5,"d":1.5,"z":0.002},
{"v":7.5,"d":2.5,"z":0.002},{"v":8.5,"d":2.5,"z":0.014},{"v":9.5,"d":2.5,"z":0.031},{"v":10.5,"d":2.5,"z":0.052},{"v":11.5,"d":2.5,"z":0.043},{"v":12.5,"d":2.5,"z":0.032},{"v":13.5,"d":2.5,"z":0.021},{"v":14.5,"d":2.5,"z":0.013},{"v":15.5,"d":2.5,"z":0.012},{"v":16.5,"d":2.5,"z":0.011},{"v":17.5,"d":2.5,"z":0.008},{"v":18.5,"d":2.5,"z":0.006},{"v":19.5,"d":2.5,"z":0.005},{"v":20.5,"d":2.5,"z":0.005},{"v":21.5,"d":2.5,"z":0.005},{"v":22.5,"d":2.5,"z":0.0035},{"v":23.5,"d":2.5,"z":0.002},
{"v":8.5,"d":3.5,"z":0.006},{"v":9.5,"d":3.5,"z":0.011},{"v":10.5,"d":3.5,"z":0.021},{"v":11.5,"d":3.5,"z":0.021},{"v":12.5,"d":3.5,"z":0.012},{"v":13.5,"d":3.5,"z":0.008},{"v":14.5,"d":3.5,"z":0.006},{"v":15.5,"d":3.5,"z":0.0055},{"v":16.5,"d":3.5,"z":0.005},{"v":17.5,"d":3.5,"z":0.005},{"v":18.5,"d":3.5,"z":0.0045},{"v":19.5,"d":3.5,"z":0.004},{"v":20.5,"d":3.5,"z":0.0035},{"v":21.5,"d":3.5,"z":0.0035},{"v":22.5,"d":3.5,"z":0.002},
{"v":8.5,"d":4.5,"z":0.005},{"v":9.5,"d":4.5,"z":0.01},{"v":10.5,"d":4.5,"z":0.019},{"v":11.5,"d":4.5,"z":0.019},{"v":12.5,"d":4.5,"z":0.011},{"v":13.5,"d":4.5,"z":0.007},{"v":14.5,"d":4.5,"z":0.005},{"v":15.5,"d":4.5,"z":0.0045},{"v":16.5,"d":4.5,"z":0.004},{"v":17.5,"d":4.5,"z":0.004},{"v":18.5,"d":4.5,"z":0.0035},{"v":19.5,"d":4.5,"z":0.0035},{"v":20.5,"d":4.5,"z":0.003},{"v":21.5,"d":4.5,"z":0.003},{"v":22.5,"d":4.5,"z":0.002},
{"v":8.5,"d":5.5,"z":0.003},{"v":9.5,"d":5.5,"z":0.006},{"v":10.5,"d":5.5,"z":0.013},{"v":11.5,"d":5.5,"z":0.012},{"v":12.5,"d":5.5,"z":0.007},{"v":13.5,"d":5.5,"z":0.005},{"v":14.5,"d":5.5,"z":0.004},{"v":15.5,"d":5.5,"z":0.0035},{"v":16.5,"d":5.5,"z":0.003},{"v":17.5,"d":5.5,"z":0.003},{"v":18.5,"d":5.5,"z":0.0025},{"v":19.5,"d":5.5,"z":0.0025},{"v":20.5,"d":5.5,"z":0.002},{"v":21.5,"d":5.5,"z":0.002},
{"v":8.5,"d":6.5,"z":0.002},{"v":9.5,"d":6.5,"z":0.004},{"v":10.5,"d":6.5,"z":0.0085},{"v":11.5,"d":6.5,"z":0.0085},{"v":12.5,"d":6.5,"z":0.0055},{"v":13.5,"d":6.5,"z":0.0035},{"v":14.5,"d":6.5,"z":0.003},{"v":15.5,"d":6.5,"z":0.0025},{"v":16.5,"d":6.5,"z":0.002},{"v":17.5,"d":6.5,"z":0.002},
{"v":8.5,"d":7.5,"z":0.002},{"v":9.5,"d":7.5,"z":0.003},{"v":10.5,"d":7.5,"z":0.0055},{"v":11.5,"d":7.5,"z":0.0055},{"v":12.5,"d":7.5,"z":0.004},{"v":13.5,"d":7.5,"z":0.003},{"v":14.5,"d":7.5,"z":0.0025},{"v":15.5,"d":7.5,"z":0.002},
{"v":9.5,"d":8.5,"z":0.0025},{"v":10.5,"d":8.5,"z":0.0045},{"v":11.5,"d":8.5,"z":0.0045},{"v":12.5,"d":8.5,"z":0.0035},{"v":13.5,"d":8.5,"z":0.003},{"v":14.5,"d":8.5,"z":0.002},
{"v":10.5,"d":9.5,"z":0.0035},{"v":11.5,"d":9.5,"z":0.0035},{"v":12.5,"d":9.5,"z":0.003},{"v":13.5,"d":9.5,"z":0.002},{"v":10.5,"d":10.5,"z":0.002},{"v":11.5,"d":10.5,"z":0.002}],
"e":[{"v":7.5,"d":0.5,"z":0.002},{"v":8.5,"d":0.5,"z":0.0025},{"v":9.5,"d":0.5,"z":0.003},{"v":10.5,"d":0.5,"z":0.008},{"v":11.5,"d":0.5,"z":0.009},{"v":12.5,"d":0.5,"z":0.012},{"v":13.5,"d":0.5,"z":0.004},{"v":14.5,"d":0.5,"z":0.004},{"v":15.5,"d":0.5,"z":0.002},
{"v":8.5,"d":1.5,"z":0.003},{"v":9.5,"d":1.5,"z":0.004},{"v":10.5,"d":1.5,"z":0.013},{"v":11.5,"d":1.5,"z":0.015},{"v":12.5,"d":1.5,"z":0.015},{"v":13.5,"d":1.5,"z":0.006},{"v":14.5,"d":1.5,"z":0.004},{"v":15.5,"d":1.5,"z":0.003},
{"v":6.5,"d":2.5,"z":0.0015},{"v":7.5,"d":2.5,"z":0.0025},{"v":8.5,"d":2.5,"z":0.007},{"v":9.5,"d":2.5,"z":0.019},{"v":10.5,"d":2.5,"z":0.046},{"v":11.5,"d":2.5,"z":0.046},{"v":12.5,"d":2.5,"z":0.042},{"v":13.5,"d":2.5,"z":0.028},{"v":14.5,"d":2.5,"z":0.026},{"v":15.5,"d":2.5,"z":0.014},{"v":16.5,"d":2.5,"z":0.013},{"v":17.5,"d":2.5,"z":0.014},{"v":18.5,"d":2.5,"z":0.018},{"v":19.5,"d":2.5,"z":0.006},{"v":20.5,"d":2.5,"z":0.005},{"v":21.5,"d":2.5,"z":0.004},{"v":22.5,"d":2.5,"z":0.004},{"v":23.5,"d":2.5,"z":0.004},{"v":24.5,"d":2.5,"z":0.002},
{"v":8.5,"d":3.5,"z":0.003},{"v":9.5,"d":3.5,"z":0.01},{"v":10.5,"d":3.5,"z":0.022},{"v":11.5,"d":3.5,"z":0.023},{"v":12.5,"d":3.5,"z":0.027},{"v":13.5,"d":3.5,"z":0.013},{"v":14.5,"d":3.5,"z":0.011},{"v":15.5,"d":3.5,"z":0.008},{"v":16.5,"d":3.5,"z":0.007},{"v":17.5,"d":3.5,"z":0.007},{"v":18.5,"d":3.5,"z":0.007},{"v":19.5,"d":3.5,"z":0.004},{"v":20.5,"d":3.5,"z":0.003},{"v":21.5,"d":3.5,"z":0.003},{"v":22.5,"d":3.5,"z":0.002},
{"v":8.5,"d":4.5,"z":0.003},{"v":9.5,"d":4.5,"z":0.007},{"v":10.5,"d":4.5,"z":0.021},{"v":11.5,"d":4.5,"z":0.022},{"v":12.5,"d":4.5,"z":0.024},{"v":13.5,"d":4.5,"z":0.009},{"v":14.5,"d":4.5,"z":0.009},{"v":15.5,"d":4.5,"z":0.006},{"v":16.5,"d":4.5,"z":0.006},{"v":17.5,"d":4.5,"z":0.0055},{"v":18.5,"d":4.5,"z":0.0055},{"v":19.5,"d":4.5,"z":0.003},{"v":20.5,"d":4.5,"z":0.003},{"v":21.5,"d":4.5,"z":0.002},
{"v":8.5,"d":5.5,"z":0.003},{"v":9.5,"d":5.5,"z":0.007},{"v":10.5,"d":5.5,"z":0.012},{"v":11.5,"d":5.5,"z":0.013},{"v":12.5,"d":5.5,"z":0.02},{"v":13.5,"d":5.5,"z":0.007},{"v":14.5,"d":5.5,"z":0.006},{"v":15.5,"d":5.5,"z":0.005},{"v":16.5,"d":5.5,"z":0.004},{"v":17.5,"d":5.5,"z":0.004},{"v":18.5,"d":5.5,"z":0.004},{"v":19.5,"d":5.5,"z":0.003},
{"v":8.5,"d":6.5,"z":0.002},{"v":9.5,"d":6.5,"z":0.005},{"v":10.5,"d":6.5,"z":0.01},{"v":11.5,"d":6.5,"z":0.009},{"v":12.5,"d":6.5,"z":0.012},{"v":13.5,"d":6.5,"z":0.005},{"v":14.5,"d":6.5,"z":0.004},{"v":15.5,"d":6.5,"z":0.0035},{"v":16.5,"d":6.5,"z":0.003},{"v":17.5,"d":6.5,"z":0.003},{"v":18.5,"d":6.5,"z":0.003},{"v":19.5,"d":6.5,"z":0.002},
{"v":8.5,"d":7.5,"z":0.002},{"v":9.5,"d":7.5,"z":0.004},{"v":10.5,"d":7.5,"z":0.007},{"v":11.5,"d":7.5,"z":0.0075},{"v":12.5,"d":7.5,"z":0.01},{"v":13.5,"d":7.5,"z":0.004},{"v":14.5,"d":7.5,"z":0.0035},{"v":15.5,"d":7.5,"z":0.003},{"v":16.5,"d":7.5,"z":0.003},{"v":17.5,"d":7.5,"z":0.0025},{"v":18.5,"d":7.5,"z":0.0025},
{"v":8.5,"d":8.5,"z":0.0025},{"v":9.5,"d":8.5,"z":0.004},{"v":10.5,"d":8.5,"z":0.006},{"v":11.5,"d":8.5,"z":0.0065},{"v":12.5,"d":8.5,"z":0.009},{"v":13.5,"d":8.5,"z":0.004},{"v":14.5,"d":8.5,"z":0.003},{"v":15.5,"d":8.5,"z":0.0025},{"v":16.5,"d":8.5,"z":0.002},{"v":17.5,"d":8.5,"z":0.002},{"v":18.5,"d":8.5,"z":0.002},
{"v":9.5,"d":9.5,"z":0.0025},{"v":10.5,"d":9.5,"z":0.004},{"v":11.5,"d":9.5,"z":0.005},{"v":12.5,"d":9.5,"z":0.007},{"v":13.5,"d":9.5,"z":0.003},{"v":14.5,"d":9.5,"z":0.002},
{"v":10.5,"d":10.5,"z":0.0025},{"v":11.5,"d":10.5,"z":0.003},{"v":12.5,"d":10.5,"z":0.004},{"v":13.5,"d":10.5,"z":0.002},{"v":10.5,"d":11.5,"z":0.002},{"v":11.5,"d":11.5,"z":0.0025},{"v":12.5,"d":11.5,"z":0.003},{"v":13.5,"d":11.5,"z":0.002},{"v":11.5,"d":12.5,"z":0.002},{"v":12.5,"d":12.5,"z":0.002}],
"f":[{"v":7.5,"d":0.5,"z":0.0007},{"v":8.5,"d":0.5,"z":0.001},{"v":9.5,"d":0.5,"z":0.0015},{"v":10.5,"d":0.5,"z":0.0035},{"v":11.5,"d":0.5,"z":0.0048},{"v":12.5,"d":0.5,"z":0.0055},{"v":13.5,"d":0.5,"z":0.0052},{"v":14.5,"d":0.5,"z":0.0055},{"v":15.5,"d":0.5,"z":0.005},{"v":16.5,"d":0.5,"z":0.0052},{"v":17.5,"d":0.5,"z":0.0055},{"v":18.5,"d":0.5,"z":0.0052},{"v":19.5,"d":0.5,"z":0.0055},{"v":20.5,"d":0.5,"z":0.005},{"v":21.5,"d":0.5,"z":0.004},{"v":22.5,"d":0.5,"z":0.0035},{"v":23.5,"d":0.5,"z":0.0025},{"v":24.5,"d":0.5,"z":0.0022},{"v":25.5,"d":0.5,"z":0.0006},
{"v":8.5,"d":1.5,"z":0.001},{"v":9.5,"d":1.5,"z":0.0018},{"v":10.5,"d":1.5,"z":0.0035},{"v":11.5,"d":1.5,"z":0.0052},{"v":12.5,"d":1.5,"z":0.0068},{"v":13.5,"d":1.5,"z":0.0065},{"v":14.5,"d":1.5,"z":0.0072},{"v":15.5,"d":1.5,"z":0.0068},{"v":16.5,"d":1.5,"z":0.0072},{"v":17.5,"d":1.5,"z":0.007},{"v":18.5,"d":1.5,"z":0.0068},{"v":19.5,"d":1.5,"z":0.0068},{"v":20.5,"d":1.5,"z":0.0062},{"v":21.5,"d":1.5,"z":0.0052},{"v":22.5,"d":1.5,"z":0.0042},{"v":23.5,"d":1.5,"z":0.003},{"v":24.5,"d":1.5,"z":0.0028},{"v":25.5,"d":1.5,"z":0.0006},
{"v":8.5,"d":2.5,"z":0.0012},{"v":9.5,"d":2.5,"z":0.002},{"v":10.5,"d":2.5,"z":0.0095},{"v":11.5,"d":2.5,"z":0.015},{"v":12.5,"d":2.5,"z":0.0178},{"v":13.5,"d":2.5,"z":0.0158},{"v":14.5,"d":2.5,"z":0.017},{"v":15.5,"d":2.5,"z":0.0175},{"v":16.5,"d":2.5,"z":0.018},{"v":17.5,"d":2.5,"z":0.0158},{"v":18.5,"d":2.5,"z":0.015},{"v":19.5,"d":2.5,"z":0.015},{"v":20.5,"d":2.5,"z":0.0135},{"v":21.5,"d":2.5,"z":0.0125},{"v":22.5,"d":2.5,"z":0.0078},{"v":23.5,"d":2.5,"z":0.0068},{"v":24.5,"d":2.5,"z":0.004},{"v":25.5,"d":2.5,"z":0.0006},
{"v":8.5,"d":3.5,"z":0.0015},{"v":9.5,"d":3.5,"z":0.003},{"v":10.5,"d":3.5,"z":0.0085},{"v":11.5,"d":3.5,"z":0.0128},{"v":12.5,"d":3.5,"z":0.0155},{"v":13.5,"d":3.5,"z":0.0125},{"v":14.5,"d":3.5,"z":0.0155},{"v":15.5,"d":3.5,"z":0.0148},{"v":16.5,"d":3.5,"z":0.016},{"v":17.5,"d":3.5,"z":0.0138},{"v":18.5,"d":3.5,"z":0.0143},{"v":19.5,"d":3.5,"z":0.0138},{"v":20.5,"d":3.5,"z":0.0123},{"v":21.5,"d":3.5,"z":0.0105},{"v":22.5,"d":3.5,"z":0.007},{"v":23.5,"d":3.5,"z":0.0065},{"v":24.5,"d":3.5,"z":0.0035},
{"v":8.5,"d":4.5,"z":0.001},{"v":9.5,"d":4.5,"z":0.003},{"v":10.5,"d":4.5,"z":0.0072},{"v":11.5,"d":4.5,"z":0.0105},{"v":12.5,"d":4.5,"z":0.0115},{"v":13.5,"d":4.5,"z":0.009},{"v":14.5,"d":4.5,"z":0.0115},{"v":15.5,"d":4.5,"z":0.012},{"v":16.5,"d":4.5,"z":0.0128},{"v":17.5,"d":4.5,"z":0.0102},{"v":18.5,"d":4.5,"z":0.0105},{"v":19.5,"d":4.5,"z":0.0108},{"v":20.5,"d":4.5,"z":0.009},{"v":21.5,"d":4.5,"z":0.0085},{"v":22.5,"d":4.5,"z":0.006},{"v":23.5,"d":4.5,"z":0.0048},{"v":24.5,"d":4.5,"z":0.003},
{"v":8.5,"d":5.5,"z":0.001},{"v":9.5,"d":5.5,"z":0.002},{"v":10.5,"d":5.5,"z":0.004},{"v":11.5,"d":5.5,"z":0.0075},{"v":12.5,"d":5.5,"z":0.0085},{"v":13.5,"d":5.5,"z":0.006},{"v":14.5,"d":5.5,"z":0.0085},{"v":15.5,"d":5.5,"z":0.0095},{"v":16.5,"d":5.5,"z":0.0095},{"v":17.5,"d":5.5,"z":0.007},{"v":18.5,"d":5.5,"z":0.0072},{"v":19.5,"d":5.5,"z":0.0075},{"v":20.5,"d":5.5,"z":0.0065},{"v":21.5,"d":5.5,"z":0.006},{"v":22.5,"d":5.5,"z":0.0048},{"v":23.5,"d":5.5,"z":0.004},{"v":24.5,"d":5.5,"z":0.0028},
{"v":9.5,"d":6.5,"z":0.0015},{"v":10.5,"d":6.5,"z":0.003},{"v":11.5,"d":6.5,"z":0.006},{"v":12.5,"d":6.5,"z":0.0062},{"v":13.5,"d":6.5,"z":0.0042},{"v":14.5,"d":6.5,"z":0.0062},{"v":15.5,"d":6.5,"z":0.0065},{"v":16.5,"d":6.5,"z":0.0068},{"v":17.5,"d":6.5,"z":0.0052},{"v":18.5,"d":6.5,"z":0.005},{"v":19.5,"d":6.5,"z":0.005},{"v":20.5,"d":6.5,"z":0.0045},{"v":21.5,"d":6.5,"z":0.0045},{"v":22.5,"d":6.5,"z":0.0032},{"v":23.5,"d":6.5,"z":0.0032},{"v":24.5,"d":6.5,"z":0.0022},
{"v":9.5,"d":7.5,"z":0.0012},{"v":10.5,"d":7.5,"z":0.0025},{"v":11.5,"d":7.5,"z":0.0048},{"v":12.5,"d":7.5,"z":0.0048},{"v":13.5,"d":7.5,"z":0.0028},{"v":14.5,"d":7.5,"z":0.004},{"v":15.5,"d":7.5,"z":0.0048},{"v":16.5,"d":7.5,"z":0.005},{"v":17.5,"d":7.5,"z":0.0032},{"v":18.5,"d":7.5,"z":0.0032},{"v":19.5,"d":7.5,"z":0.0032},{"v":20.5,"d":7.5,"z":0.0028},{"v":21.5,"d":7.5,"z":0.0028},{"v":22.5,"d":7.5,"z":0.0028},{"v":23.5,"d":7.5,"z":0.0025},{"v":24.5,"d":7.5,"z":0.0018},
{"v":9.5,"d":8.5,"z":0.001},{"v":10.5,"d":8.5,"z":0.0025},{"v":11.5,"d":8.5,"z":0.005},{"v":12.5,"d":8.5,"z":0.005},{"v":13.5,"d":8.5,"z":0.0028},{"v":14.5,"d":8.5,"z":0.0042},{"v":15.5,"d":8.5,"z":0.0048},{"v":16.5,"d":8.5,"z":0.0052},{"v":17.5,"d":8.5,"z":0.0032},{"v":18.5,"d":8.5,"z":0.003},{"v":19.5,"d":8.5,"z":0.003},{"v":20.5,"d":8.5,"z":0.0028},{"v":21.5,"d":8.5,"z":0.0028},{"v":22.5,"d":8.5,"z":0.0028},{"v":23.5,"d":8.5,"z":0.0025},{"v":24.5,"d":8.5,"z":0.0018},
{"v":10.5,"d":9.5,"z":0.001},{"v":11.5,"d":9.5,"z":0.0022},{"v":12.5,"d":9.5,"z":0.002},{"v":13.5,"d":9.5,"z":0.001},{"v":14.5,"d":9.5,"z":0.001},{"v":15.5,"d":9.5,"z":0.001},{"v":16.5,"d":9.5,"z":0.0015},{"v":17.5,"d":9.5,"z":0.0008},
{"v":11.5,"d":10.5,"z":0.0015},{"v":12.5,"d":10.5,"z":0.0012},{"v":13.5,"d":10.5,"z":0.0008},{"v":14.5,"d":10.5,"z":0.0008},{"v":15.5,"d":10.5,"z":0.001},{"v":16.5,"d":10.5,"z":0.001},{"v":11.5,"d":11.5,"z":0.0008},{"v":12.5,"d":11.5,"z":0.0008}]},
"vconcat":[{"bounds":"flush","spacing":0,"resolve":{"scale":{"color":"independent"},"legend":{"color":"independent"}},"hconcat":[
{"width":69,"height":250,"view":{"stroke":null},"data":{"values":[{"s":0}]},"mark":{"type":"point","opacity":0},"encoding":{}},
{"width":250,"height":250,"view":{"stroke":null},"title":{"text":"(a) Lancaster","orient":"bottom","offset":18,"dx":-2},"resolve":{"axis":{"x":"independent","y":"independent"}},"layer":[
{"data":{"name":"bg"},"mark":{"type":"rect","fill":"#000086"},"encoding":{"x":{"field":"v","type":"quantitative","scale":{"domain":[0,30],"nice":false},"axis":{"orient":"top","values":[0,5,10,15,20,25,30],"labels":false,"title":"log₁₀(𝑛ᵥ/𝑛ᵥ,ₜ)","titleFont":"Liberation Serif","titleFontSize":21,"titlePadding":3,"zindex":1}},"x2":{"field":"v2"},"y":{"field":"d","type":"quantitative","scale":{"domain":[21,0],"nice":false},"axis":{"orient":"right","values":[0,1,2,3,4,5,6,7,8,9,10,11,12,13,14,15,16,17,18,19,20,21],"labels":false,"title":null,"zindex":1}},"y2":{"field":"d2"}}},
{"data":{"name":"a"},"mark":{"type":"rect","width":8.6,"height":12.2},"encoding":{"x":{"field":"v","type":"quantitative","scale":{"domain":[0,30],"nice":false},"axis":{"values":[0,5,10,15,20,25,30],"title":"V [m/s]","grid":true,"zindex":1,"labelPadding":11,"titlePadding":6}},"y":{"field":"d","type":"quantitative","scale":{"domain":[21,0],"nice":false},"axis":{"values":[0,1,2,3,4,5,6,7,8,9,10,11,12,13,14,15,16,17,18,19,20,21],"labelExpr":"datum.value%3==0?['0.25','0.75','1.5','2.5','4','5.5','7','10'][datum.value/3]:''","labelOverlap":false,"title":"D [mm]","grid":true,"zindex":1,"labelPadding":11,"titlePadding":1}},"color":{"field":"z","type":"quantitative","scale":{"domain":[-5,-4.5,-4,-3.5,-3,-2.5,-2,-1.5,-1],"range":["#000084","#0000ff","#0080ff","#00ffff","#80ff80","#ffff00","#ff8000","#ff0000","#800000"],"interpolate":"rgb"},"legend":{"title":null,"orient":"none","legendX":266,"legendY":0,"gradientLength":250,"gradientThickness":17,"values":[-5,-4,-3,-2,-1],"labelExpr":"''+datum.value","encode":{"labels":{"update":{"baseline":{"value":"middle"}}}}}}}}
]},
{"width":150,"height":250,"view":{"stroke":null},"data":{"values":[{"s":0}]},"mark":{"type":"point","opacity":0},"encoding":{}},
{"width":250,"height":250,"view":{"stroke":null},"title":{"text":"(b) Lampedusa","orient":"bottom","offset":18,"dx":4},"resolve":{"axis":{"x":"independent","y":"independent"}},"layer":[
{"data":{"name":"bg"},"mark":{"type":"rect","fill":"#000086"},"encoding":{"x":{"field":"v","type":"quantitative","scale":{"domain":[0,30],"nice":false},"axis":{"orient":"top","values":[0,5,10,15,20,25,30],"labels":false,"title":"log₁₀(𝑛ᵥ/𝑛ᵥ,ₜ)","titleFont":"Liberation Serif","titleFontSize":21,"titlePadding":3,"zindex":1}},"x2":{"field":"v2"},"y":{"field":"d","type":"quantitative","scale":{"domain":[21,0],"nice":false},"axis":{"orient":"right","values":[0,1,2,3,4,5,6,7,8,9,10,11,12,13,14,15,16,17,18,19,20,21],"labels":false,"title":null,"zindex":1}},"y2":{"field":"d2"}}},
{"data":{"name":"b"},"mark":{"type":"rect","width":8.6,"height":12.2},"encoding":{"x":{"field":"v","type":"quantitative","scale":{"domain":[0,30],"nice":false},"axis":{"values":[0,5,10,15,20,25,30],"title":"V [m/s]","grid":true,"zindex":1,"labelPadding":11,"titlePadding":6}},"y":{"field":"d","type":"quantitative","scale":{"domain":[21,0],"nice":false},"axis":{"values":[0,1,2,3,4,5,6,7,8,9,10,11,12,13,14,15,16,17,18,19,20,21],"labelExpr":"datum.value%3==0?['0.25','0.75','1.5','2.5','4','5.5','7','10'][datum.value/3]:''","labelOverlap":false,"title":"D [mm]","grid":true,"zindex":1,"labelPadding":11,"titlePadding":1}},"color":{"field":"z","type":"quantitative","scale":{"domain":[-5,-4.5,-4,-3.5,-3,-2.5,-2,-1.5,-1],"range":["#000084","#0000ff","#0080ff","#00ffff","#80ff80","#ffff00","#ff8000","#ff0000","#800000"],"interpolate":"rgb"},"legend":{"title":null,"orient":"none","legendX":266,"legendY":0,"gradientLength":250,"gradientThickness":17,"values":[-5,-4,-3,-2,-1],"labelExpr":"''+datum.value","encode":{"labels":{"update":{"baseline":{"value":"middle"}}}}}}}}
]},
{"width":157,"height":250,"view":{"stroke":null},"data":{"values":[{"s":0}]},"mark":{"type":"point","opacity":0},"encoding":{}},
{"width":250,"height":250,"view":{"stroke":null},"title":{"text":"(c) North Sea","orient":"bottom","offset":18},"resolve":{"axis":{"x":"independent","y":"independent"}},"layer":[
{"data":{"name":"bg"},"mark":{"type":"rect","fill":"#000086"},"encoding":{"x":{"field":"v","type":"quantitative","scale":{"domain":[0,30],"nice":false},"axis":{"orient":"top","values":[0,5,10,15,20,25,30],"labels":false,"title":"log₁₀(𝑛ᵥ/𝑛ᵥ,ₜ)","titleFont":"Liberation Serif","titleFontSize":21,"titlePadding":3,"zindex":1}},"x2":{"field":"v2"},"y":{"field":"d","type":"quantitative","scale":{"domain":[21,0],"nice":false},"axis":{"orient":"right","values":[0,1,2,3,4,5,6,7,8,9,10,11,12,13,14,15,16,17,18,19,20,21],"labels":false,"title":null,"zindex":1}},"y2":{"field":"d2"}}},
{"data":{"name":"c"},"mark":{"type":"rect","width":8.6,"height":12.2},"encoding":{"x":{"field":"v","type":"quantitative","scale":{"domain":[0,30],"nice":false},"axis":{"values":[0,5,10,15,20,25,30],"title":"V [m/s]","grid":true,"zindex":1,"labelPadding":11,"titlePadding":6}},"y":{"field":"d","type":"quantitative","scale":{"domain":[21,0],"nice":false},"axis":{"values":[0,1,2,3,4,5,6,7,8,9,10,11,12,13,14,15,16,17,18,19,20,21],"labelExpr":"datum.value%3==0?['0.25','0.75','1.5','2.5','4','5.5','7','10'][datum.value/3]:''","labelOverlap":false,"title":"D [mm]","grid":true,"zindex":1,"labelPadding":11,"titlePadding":1}},"color":{"field":"z","type":"quantitative","scale":{"domain":[-5,-4.5,-4,-3.5,-3,-2.5,-2,-1.5,-1],"range":["#000084","#0000ff","#0080ff","#00ffff","#80ff80","#ffff00","#ff8000","#ff0000","#800000"],"interpolate":"rgb"},"legend":{"title":null,"orient":"none","legendX":266,"legendY":0,"gradientLength":250,"gradientThickness":17,"values":[-5,-4,-3,-2,-1],"labelExpr":"''+datum.value","encode":{"labels":{"update":{"baseline":{"value":"middle"}}}}}}}}
]}
]},
{"bounds":"flush","spacing":0,"resolve":{"scale":{"color":"independent"},"legend":{"color":"independent"}},"hconcat":[
{"width":64,"height":250,"view":{"stroke":null},"data":{"values":[{"s":0}]},"mark":{"type":"point","opacity":0},"encoding":{}},
{"width":250,"height":252,"view":{"stroke":null},"title":{"text":"(d) Lancaster","orient":"bottom","offset":18,"dx":10},"resolve":{"axis":{"x":"independent","y":"independent"}},"layer":[
{"data":{"name":"bg"},"mark":{"type":"rect","fill":"#00008c"},"encoding":{"x":{"field":"v","type":"quantitative","scale":{"domain":[0,30],"nice":false},"axis":{"orient":"top","offset":-2,"values":[0,5,10,15,20,25,30],"labels":false,"title":"𝐷ₛ/𝐷ₛ,ₜ","titleFont":"Liberation Serif","titleFontSize":21,"titlePadding":3,"zindex":1}},"x2":{"field":"v2"},"y":{"field":"d","type":"quantitative","scale":{"domain":[21,0],"nice":false,"range":[252,2]},"axis":{"orient":"right","values":[0,1,2,3,4,5,6,7,8,9,10,11,12,13,14,15,16,17,18,19,20,21],"labels":false,"title":null,"zindex":1}},"y2":{"field":"d2"}}},
{"data":{"name":"d"},"mark":{"type":"rect","width":8.6,"height":12.2},"encoding":{"x":{"field":"v","type":"quantitative","scale":{"domain":[0,30],"nice":false},"axis":{"values":[0,5,10,15,20,25,30],"title":"V [m/s]","grid":true,"zindex":1,"labelPadding":11,"titlePadding":6}},"y":{"field":"d","type":"quantitative","scale":{"domain":[21,0],"nice":false,"range":[252,2]},"axis":{"values":[0,1,2,3,4,5,6,7,8,9,10,11,12,13,14,15,16,17,18,19,20,21],"labelExpr":"datum.value%3==0?['0.25','0.75','1.5','2.5','4','5.5','7','10'][datum.value/3]:''","labelOverlap":false,"title":"D [mm]","grid":true,"zindex":1,"labelPadding":11,"titlePadding":1}},"color":{"field":"z","type":"quantitative","scale":{"domain":[0,0.0075,0.015,0.0225,0.03,0.0375,0.045,0.0525,0.06],"range":["#000084","#0000ff","#0080ff","#00ffff","#80ff80","#ffff00","#ff8000","#ff0000","#800000"],"interpolate":"rgb"},"legend":{"title":null,"orient":"none","legendX":266,"legendY":2,"gradientLength":250,"gradientThickness":17,"values":[0,0.01,0.02,0.03,0.04,0.05,0.06],"labelExpr":"''+datum.value","encode":{"labels":{"update":{"baseline":{"value":"middle"}}}}}}}}
]},
{"width":156,"height":250,"view":{"stroke":null},"data":{"values":[{"s":0}]},"mark":{"type":"point","opacity":0},"encoding":{}},
{"width":236,"height":253,"view":{"stroke":null},"title":{"text":"(e) Lampedusa","orient":"bottom","offset":18,"dx":9},"resolve":{"axis":{"x":"independent","y":"independent"}},"layer":[
{"data":{"name":"bg"},"mark":{"type":"rect","fill":"#00008c"},"encoding":{"x":{"field":"v","type":"quantitative","scale":{"domain":[0,30],"nice":false},"axis":{"orient":"top","offset":-16,"values":[0,5,10,15,20,25,30],"labels":false,"title":"𝐷ₛ/𝐷ₛ,ₜ","titleFont":"Liberation Serif","titleFontSize":21,"titlePadding":3,"zindex":1}},"x2":{"field":"v2"},"y":{"field":"d","type":"quantitative","scale":{"domain":[21,0],"nice":false,"range":[253,16]},"axis":{"orient":"right","values":[0,1,2,3,4,5,6,7,8,9,10,11,12,13,14,15,16,17,18,19,20,21],"labels":false,"title":null,"zindex":1}},"y2":{"field":"d2"}}},
{"data":{"name":"e"},"mark":{"type":"rect","width":8,"height":11.5},"encoding":{"x":{"field":"v","type":"quantitative","scale":{"domain":[0,30],"nice":false},"axis":{"values":[0,5,10,15,20,25,30],"title":"V [m/s]","grid":true,"zindex":1,"labelPadding":11,"titlePadding":6}},"y":{"field":"d","type":"quantitative","scale":{"domain":[21,0],"nice":false,"range":[253,16]},"axis":{"values":[0,1,2,3,4,5,6,7,8,9,10,11,12,13,14,15,16,17,18,19,20,21],"labelExpr":"datum.value%3==0?['0.25','0.75','1.5','2.5','4','5.5','7','10'][datum.value/3]:''","labelOverlap":false,"title":"D [mm]","grid":true,"zindex":1,"labelPadding":11,"titlePadding":1}},"color":{"field":"z","type":"quantitative","scale":{"domain":[0,0.0075,0.015,0.0225,0.03,0.0375,0.045,0.0525,0.06],"range":["#000084","#0000ff","#0080ff","#00ffff","#80ff80","#ffff00","#ff8000","#ff0000","#800000"],"interpolate":"rgb"},"legend":{"title":null,"orient":"none","legendX":253,"legendY":16,"gradientLength":237,"gradientThickness":17,"values":[0,0.01,0.02,0.03,0.04,0.05,0.06],"labelExpr":"''+datum.value","encode":{"labels":{"update":{"baseline":{"value":"middle"}}}}}}}}
]},
{"width":163,"height":250,"view":{"stroke":null},"data":{"values":[{"s":0}]},"mark":{"type":"point","opacity":0},"encoding":{}},
{"width":250,"height":252,"view":{"stroke":null},"title":{"text":"(f) North Sea","orient":"bottom","offset":18,"dx":-4},"resolve":{"axis":{"x":"independent","y":"independent"}},"layer":[
{"data":{"name":"bg"},"mark":{"type":"rect","fill":"#00008c"},"encoding":{"x":{"field":"v","type":"quantitative","scale":{"domain":[0,30],"nice":false},"axis":{"orient":"top","values":[0,5,10,15,20,25,30],"labels":false,"title":"𝐷ₛ/𝐷ₛ,ₜ","titleFont":"Liberation Serif","titleFontSize":21,"titlePadding":3,"zindex":1}},"x2":{"field":"v2"},"y":{"field":"d","type":"quantitative","scale":{"domain":[21,0],"nice":false},"axis":{"orient":"right","values":[0,1,2,3,4,5,6,7,8,9,10,11,12,13,14,15,16,17,18,19,20,21],"labels":false,"title":null,"zindex":1}},"y2":{"field":"d2"}}},
{"data":{"name":"f"},"mark":{"type":"rect","width":8.6,"height":12.3},"encoding":{"x":{"field":"v","type":"quantitative","scale":{"domain":[0,30],"nice":false},"axis":{"values":[0,5,10,15,20,25,30],"title":"V [m/s]","grid":true,"zindex":1,"labelPadding":11,"titlePadding":6}},"y":{"field":"d","type":"quantitative","scale":{"domain":[21,0],"nice":false},"axis":{"values":[0,1,2,3,4,5,6,7,8,9,10,11,12,13,14,15,16,17,18,19,20,21],"labelExpr":"datum.value%3==0?['0.25','0.75','1.5','2.5','4','5.5','7','10'][datum.value/3]:''","labelOverlap":false,"title":"D [mm]","grid":true,"zindex":1,"labelPadding":11,"titlePadding":1}},"color":{"field":"z","type":"quantitative","scale":{"domain":[0,0.0025,0.005,0.0075,0.01,0.0125,0.015,0.0175,0.02],"range":["#000084","#0000ff","#0080ff","#00ffff","#80ff80","#ffff00","#ff8000","#ff0000","#800000"],"interpolate":"rgb"},"legend":{"title":null,"orient":"none","legendX":267,"legendY":0,"gradientLength":252,"gradientThickness":17,"values":[0,0.005,0.01,0.015,0.02],"labelExpr":"''+datum.value","encode":{"labels":{"update":{"baseline":{"value":"middle"}}}}}}}}
]}
]}
]}
